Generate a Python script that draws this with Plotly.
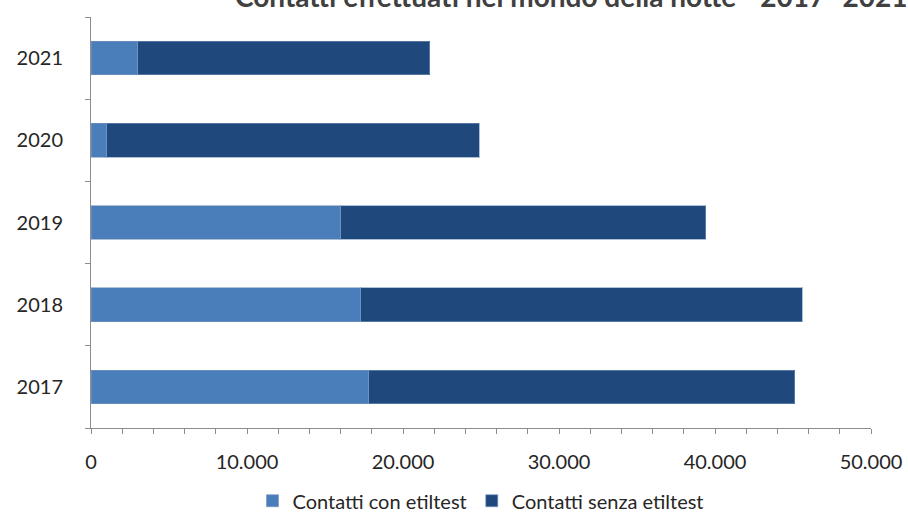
import plotly.graph_objects as go

years = ["2017", "2018", "2019", "2020", "2021"]
con_etiltest = [17800, 17300, 16000, 1000, 3000]
totale = [45100, 45600, 39400, 24900, 21700]
senza_etiltest = [t - c for t, c in zip(totale, con_etiltest)]

series_names = ["Contatti con etiltest", "Contatti senza etiltest"]
colors = ["#4A7EBB", "#1F497D"]
title_text = "Contatti effettuati nel mondo della notte - 2017- 2021"

fig = go.Figure()
for name, vals, col in zip(series_names, [con_etiltest, senza_etiltest], colors):
    fig.add_trace(go.Bar(
        y=years, x=vals, name=name, orientation="h",
        marker=dict(color=col, line=dict(color="rgba(120,150,190,0.6)", width=1)),
    ))

font_family = "Lato, 'Open Sans', sans-serif"
fig.update_layout(
    barmode="stack",
    bargap=0.59,
    width=908, height=512,
    margin=dict(l=91, r=37, t=17, b=84, autoexpand=False),
    paper_bgcolor="white", plot_bgcolor="white",
    separators=",.",
    font=dict(family=font_family, size=20, color="#262626"),
    showlegend=True,
    legend=dict(orientation="h", x=0.5, xanchor="center", xref="paper",
                y=0.022, yanchor="middle", yref="container",
                font=dict(size=20, color="#262626"), traceorder="normal",
                itemwidth=30, tracegroupgap=0),
    xaxis=dict(range=[0, 50000], dtick=10000, tickformat=",d",
               showgrid=False, zeroline=False, automargin=False,
               showline=True, linecolor="#8c8c8c", linewidth=1,
               ticks="outside", ticklen=5, tickcolor="#8c8c8c",
               minor=dict(dtick=2000, ticks="outside", ticklen=5, tickcolor="#8c8c8c"),
               ticklabelstandoff=11),
    yaxis=dict(type="category", categoryorder="array", categoryarray=years,
               showgrid=False, zeroline=False, automargin=False,
               showline=True, linecolor="#8c8c8c", linewidth=1,
               ticks="outside", ticklen=5, tickcolor="#8c8c8c",
               tickson="boundaries", ticklabelstandoff=23),
)
fig.add_annotation(text=title_text, xref="paper", yref="paper",
                   x=(233 - 91) / 780, y=1 + (17 + 4) / 411,
                   xanchor="left", yanchor="middle", showarrow=False,
                   font=dict(size=28, color="#404040", weight="bold"))

fig.write_html("out.html",
               config={"displayModeBar": False},
               post_script="document.body.style.margin='0';document.body.style.overflow='hidden';")
